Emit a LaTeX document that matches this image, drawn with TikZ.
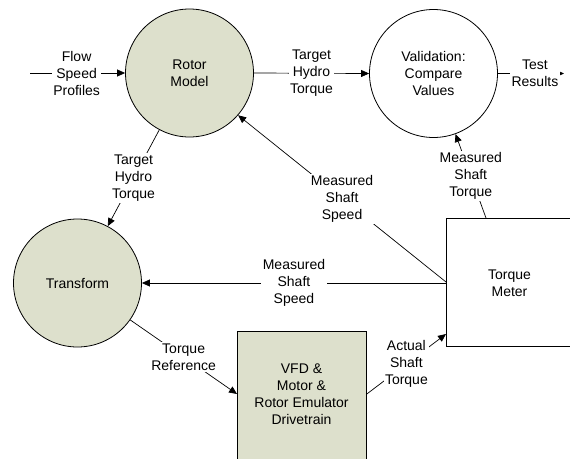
\documentclass[tikz,border=0pt]{standalone}
\usepackage{fontspec}
\setmainfont{Liberation Sans}
\usetikzlibrary{arrows.meta}
\definecolor{olivefill}{RGB}{221,224,204}
\tikzset{
  proc/.style={circle,draw=black,line width=0.8pt,minimum size=128pt,inner sep=0pt,align=center,font=\fontsize{14}{17}\selectfont},
  boxnode/.style={rectangle,draw=black,line width=0.8pt,inner sep=0pt,align=center,font=\fontsize{14}{17}\selectfont},
  flow/.style={line width=0.7pt,-{Triangle[length=8pt,width=7pt]}},
  lbl/.style={fill=white,inner sep=1.5pt,align=center,font=\fontsize{14}{17}\selectfont}
}
\begin{document}
\begin{tikzpicture}[x=1pt,y=-1pt]
\useasboundingbox (0,0) rectangle (570,458);
\clip (0,0) rectangle (570,458);
\node[proc,fill=olivefill] (rotor) at (189.5,73) {Rotor\\Model};
\node[proc,fill=white] (valid) at (433.5,73.5) {Validation:\\Compare\\Values};
\node[proc,fill=olivefill] (trans) at (77.5,283) {Transform};
\node[boxnode,fill=olivefill,minimum width=129pt,minimum height=140pt,anchor=north west] (vfd) at (237,331) {};
\node[font=\fontsize{14}{17}\selectfont,align=center] (vfdtxt) at (301.5,394) {VFD \&\\Motor \&\\Rotor Emulator\\Drivetrain};
\node[boxnode,fill=white,minimum width=140pt,minimum height=128pt,anchor=north west] (tm) at (446,218) {};
\node[font=\fontsize{14}{17}\selectfont,align=center] (tmtxt) at (509.5,283) {Torque\\Meter};
\coordinate (flowin) at (30,73);
\coordinate (testout) at (564,73.5);

\draw[flow] (flowin) -- node[lbl,pos=0.49] {Flow\\Speed\\Profiles} (rotor.west);
\draw[flow] (rotor.east) -- node[lbl,pos=0.5] {Target\\Hydro\\Torque} (valid.west);
\draw[flow] (valid.east) -- node[lbl,pos=0.56] {Test\\Results} (testout);
\draw[flow] ([xshift=40pt]tm.north west) -- node[lbl,pos=0.5] {Measured\\Shaft\\Torque} (valid.-70);
\draw[flow] ([yshift=-64pt]tm.north west) -- node[lbl,pos=0.5] {Measured\\Shaft\\Speed} (rotor.-41);
\draw[flow] ([yshift=-65pt]tm.north west) -- node[lbl,pos=0.5] {Measured\\Shaft\\Speed} (trans.east);
\draw[flow] (rotor.-118) -- node[lbl,pos=0.5] {Target\\Hydro\\Torque} (trans.62);
\draw[flow] (trans.-35) -- node[lbl,pos=0.5] {Torque\\Reference} ([yshift=-63pt]vfd.north west);
\draw[flow] ([yshift=-63pt]vfd.north east) -- node[lbl,pos=0.5] {Actual\\Shaft\\Torque} ([yshift=-116pt]tm.north west);
\end{tikzpicture}
\end{document}
